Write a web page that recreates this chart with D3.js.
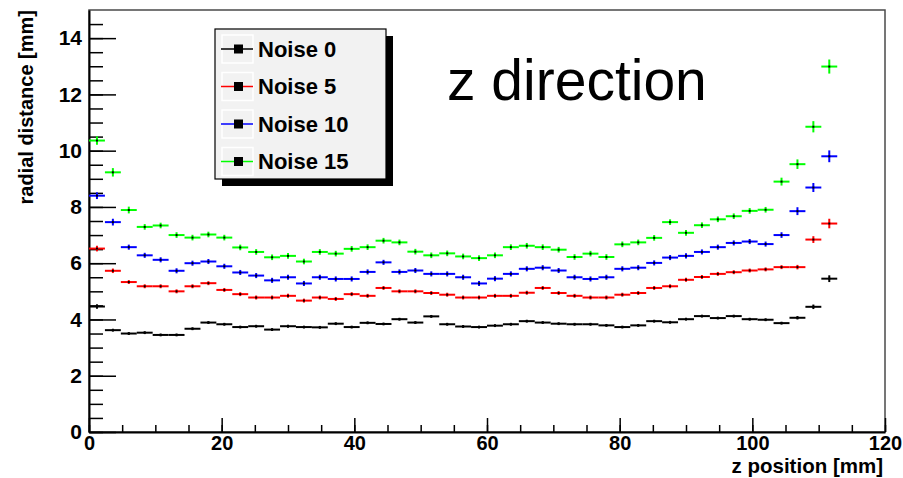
<!DOCTYPE html>
<html>
<head>
<meta charset="utf-8">
<script src="https://cdn.jsdelivr.net/npm/d3@7"></script>
<style>
    body { margin: 0; background: #ffffff; }
    svg text { font-family: "Liberation Sans", Arial, Helvetica, sans-serif; }
</style>
</head>
<body>
<div id="chart"></div>
<script>
"use strict";

// bin centres along z [mm], 2.4 mm wide bins
const zCenters = [1.2, 3.6, 6.0, 8.4, 10.8, 13.2, 15.6, 18.0, 20.4, 22.8, 25.2, 27.6, 30.0, 32.4, 34.8, 37.2,
    39.6, 42.0, 44.4, 46.8, 49.2, 51.6, 54.0, 56.4, 58.8, 61.2, 63.6, 66.0, 68.4, 70.8, 73.2, 75.6,
    78.0, 80.4, 82.8, 85.2, 87.6, 90.0, 92.4, 94.8, 97.2, 99.6, 102.0, 104.4, 106.8, 109.2, 111.6];
const binWidth = 2.4;

const noise0 = [4.46, 3.62, 3.50, 3.53, 3.45, 3.45, 3.67, 3.89, 3.83, 3.73, 3.76, 3.64, 3.76, 3.73, 3.72, 3.85,
    3.73, 3.88, 3.84, 4.01, 3.89, 4.11, 3.83, 3.75, 3.73, 3.78, 3.83, 3.94, 3.89, 3.85, 3.83, 3.83,
    3.79, 3.73, 3.79, 3.94, 3.90, 4.01, 4.12, 4.05, 4.12, 4.01, 3.99, 3.87, 4.06, 4.45, 5.45];
const noise5 = [6.52, 5.73, 5.33, 5.18, 5.18, 5.00, 5.18, 5.29, 5.05, 4.90, 4.78, 4.78, 4.84, 4.67, 4.78, 4.73,
    4.90, 4.84, 5.12, 5.00, 5.00, 4.94, 4.88, 4.78, 4.78, 4.84, 4.84, 4.95, 5.12, 4.94, 4.84, 4.78,
    4.78, 4.88, 4.94, 5.12, 5.18, 5.41, 5.51, 5.62, 5.68, 5.74, 5.78, 5.86, 5.86, 6.84, 7.41];
const noise10 = [8.40, 7.46, 6.57, 6.28, 6.12, 5.73, 6.00, 6.06, 5.89, 5.67, 5.56, 5.39, 5.50, 5.28, 5.50, 5.44,
    5.44, 5.69, 6.03, 5.69, 5.74, 5.62, 5.62, 5.50, 5.28, 5.45, 5.62, 5.80, 5.84, 5.74, 5.50, 5.44,
    5.50, 5.80, 5.84, 6.01, 6.20, 6.26, 6.40, 6.57, 6.72, 6.77, 6.68, 7.00, 7.85, 8.69, 9.80];
const noise15 = [10.36, 9.23, 7.89, 7.29, 7.34, 7.00, 6.91, 7.02, 6.91, 6.56, 6.40, 6.21, 6.26, 6.06, 6.40, 6.34,
    6.51, 6.57, 6.80, 6.74, 6.41, 6.28, 6.35, 6.24, 6.18, 6.28, 6.57, 6.62, 6.57, 6.48, 6.22, 6.34,
    6.22, 6.67, 6.74, 6.90, 7.46, 7.08, 7.35, 7.56, 7.67, 7.86, 7.90, 8.90, 9.52, 10.85, 12.99];

// vertical error bars (half height, mm)
const noise0Err = [0.08, 0.05, 0.05, 0.05, 0.05, 0.05, 0.05, 0.05, 0.05, 0.05, 0.05, 0.05, 0.05, 0.05, 0.05, 0.05,
    0.05, 0.05, 0.05, 0.05, 0.05, 0.05, 0.05, 0.05, 0.05, 0.05, 0.05, 0.05, 0.05, 0.05, 0.05, 0.05,
    0.05, 0.05, 0.05, 0.05, 0.05, 0.05, 0.05, 0.05, 0.05, 0.05, 0.05, 0.05, 0.06, 0.08, 0.12];
const noise5Err = [0.10, 0.08, 0.07, 0.07, 0.07, 0.07, 0.07, 0.07, 0.07, 0.07, 0.07, 0.07, 0.07, 0.07, 0.07, 0.07,
    0.07, 0.07, 0.07, 0.07, 0.07, 0.07, 0.07, 0.07, 0.07, 0.07, 0.07, 0.07, 0.07, 0.07, 0.07, 0.07,
    0.07, 0.07, 0.07, 0.07, 0.07, 0.07, 0.07, 0.07, 0.07, 0.07, 0.07, 0.07, 0.08, 0.12, 0.17];
const noise10Err = [0.12, 0.12, 0.09, 0.09, 0.09, 0.09, 0.09, 0.09, 0.09, 0.09, 0.09, 0.09, 0.09, 0.09, 0.09, 0.09,
    0.09, 0.09, 0.09, 0.09, 0.09, 0.09, 0.09, 0.09, 0.09, 0.09, 0.09, 0.09, 0.09, 0.09, 0.09, 0.09,
    0.09, 0.09, 0.09, 0.09, 0.09, 0.09, 0.09, 0.09, 0.09, 0.09, 0.09, 0.10, 0.14, 0.16, 0.21];
const noise15Err = [0.15, 0.15, 0.12, 0.10, 0.10, 0.10, 0.10, 0.10, 0.10, 0.10, 0.10, 0.10, 0.10, 0.10, 0.10, 0.10,
    0.10, 0.10, 0.10, 0.10, 0.10, 0.10, 0.10, 0.10, 0.10, 0.10, 0.10, 0.10, 0.10, 0.10, 0.10, 0.10,
    0.10, 0.10, 0.10, 0.10, 0.10, 0.10, 0.10, 0.10, 0.10, 0.10, 0.10, 0.14, 0.17, 0.20, 0.25];

const seriesNames = ["Noise 0", "Noise 5", "Noise 10", "Noise 15"];
const seriesColors = ["#000000", "#ff0000", "#0000ff", "#00ff00"];
const seriesValues = [noise0, noise5, noise10, noise15];
const seriesErrors = [noise0Err, noise5Err, noise10Err, noise15Err];

const xMajorTicks = [0, 20, 40, 60, 80, 100, 120];
const yMajorTicks = [0, 2, 4, 6, 8, 10, 12, 14];

const width = 903, height = 478;
const plot = {left: 89, right: 885, top: 10, bottom: 432};

const svg = d3.select("#chart")
    .append("svg")
    .attr("width", width)
    .attr("height", height);

svg.append("rect")
    .attr("width", width)
    .attr("height", height)
    .attr("fill", "#ffffff");

const x = d3.scaleLinear()
    .domain([0, 120])
    .range([plot.left, plot.right]);

const y = d3.scaleLinear()
    .domain([0, 15])
    .range([plot.bottom, plot.top]);

// frame
svg.append("rect")
    .attr("x", plot.left)
    .attr("y", plot.top)
    .attr("width", plot.right - plot.left)
    .attr("height", plot.bottom - plot.top)
    .attr("fill", "none")
    .attr("stroke", "#4a4a4a")
    .attr("stroke-width", 1.5);

// y axis: minor ticks, then major ticks with labels (ticks point inwards)
svg.append("g")
    .attr("transform", "translate(" + plot.left + ",0)")
    .call(d3.axisLeft(y).tickValues(d3.range(0, 15, 0.5)).tickSizeInner(-14).tickSizeOuter(0).tickFormat(""))
    .call(g => g.select(".domain").remove())
    .call(g => g.selectAll(".tick line").attr("stroke", "#000").attr("stroke-width", 1.5));

svg.append("g")
    .attr("transform", "translate(" + plot.left + ",0)")
    .call(d3.axisLeft(y).tickValues(yMajorTicks).tickSizeInner(-27).tickSizeOuter(0).tickPadding(7))
    .call(g => g.select(".domain").attr("stroke", "#000").attr("stroke-width", 2))
    .call(g => g.selectAll(".tick line").attr("stroke", "#000").attr("stroke-width", 1.5))
    .call(g => g.selectAll(".tick text")
        .attr("font-size", 21)
        .attr("font-weight", "bold")
        .attr("fill", "#000"));

// x axis
svg.append("g")
    .attr("transform", "translate(0," + plot.bottom + ")")
    .call(d3.axisBottom(x).tickValues(d3.range(0, 121, 5)).tickSizeInner(-7).tickSizeOuter(0).tickFormat(""))
    .call(g => g.select(".domain").remove())
    .call(g => g.selectAll(".tick line").attr("stroke", "#000").attr("stroke-width", 1.5));

svg.append("g")
    .attr("transform", "translate(0," + plot.bottom + ")")
    .call(d3.axisBottom(x).tickValues(xMajorTicks).tickSizeInner(-14).tickSizeOuter(0).tickPadding(4))
    .call(g => g.select(".domain").attr("stroke", "#000").attr("stroke-width", 2))
    .call(g => g.selectAll(".tick line").attr("stroke", "#000").attr("stroke-width", 1.5))
    .call(g => g.selectAll(".tick text")
        .attr("font-size", 20)
        .attr("font-weight", "bold")
        .attr("fill", "#000"));

// axis titles
svg.append("text")
    .attr("x", 883)
    .attr("y", 473)
    .attr("text-anchor", "end")
    .attr("font-size", 20.5)
    .attr("font-weight", "bold")
    .text("z position [mm]");

svg.append("text")
    .attr("transform", "translate(33,10) rotate(-90)")
    .attr("text-anchor", "end")
    .attr("font-size", 20)
    .attr("font-weight", "bold")
    .text("radial distance [mm]");

// data: horizontal bin bars + vertical error bars + dot
seriesValues.forEach(function(values, s) {
    const color = seriesColors[s];
    const errs = seriesErrors[s];
    const g = svg.append("g").attr("class", "series");
    const pts = zCenters.map(function(z, i) { return {z: z, v: values[i], e: errs[i]}; });

    g.selectAll(".hbar")
        .data(pts)
        .enter().append("line")
        .attr("x1", d => x(d.z - binWidth / 2))
        .attr("x2", d => x(d.z + binWidth / 2))
        .attr("y1", d => y(d.v))
        .attr("y2", d => y(d.v))
        .attr("stroke", color)
        .attr("stroke-width", 2);

    g.selectAll(".vbar")
        .data(pts)
        .enter().append("line")
        .attr("x1", d => x(d.z))
        .attr("x2", d => x(d.z))
        .attr("y1", d => y(d.v - d.e))
        .attr("y2", d => y(d.v + d.e))
        .attr("stroke", color)
        .attr("stroke-width", 2);

    g.selectAll(".dot")
        .data(pts)
        .enter().append("rect")
        .attr("x", d => x(d.z) - 1)
        .attr("y", d => y(d.v) - 1)
        .attr("width", 2)
        .attr("height", 2)
        .attr("fill", "#000");
});

// legend with drop shadow
const legend = svg.append("g").attr("class", "legend");
const lx = 215, ly = 29, lw = 171, lh = 150;

legend.append("rect")
    .attr("x", lx + 7).attr("y", ly + 7)
    .attr("width", lw).attr("height", lh)
    .attr("fill", "#000");

legend.append("rect")
    .attr("x", lx).attr("y", ly)
    .attr("width", lw).attr("height", lh)
    .attr("fill", "#f2f2f2")
    .attr("stroke", "#000")
    .attr("stroke-width", 1.2);

seriesNames.forEach(function(name, i) {
    const cy = 49 + i * 37.5;

    legend.append("rect")
        .attr("x", 222).attr("y", cy - 14)
        .attr("width", 31).attr("height", 28)
        .attr("fill", "none")
        .attr("stroke", "#ffffff")
        .attr("stroke-width", 1.5);

    legend.append("line")
        .attr("x1", 221).attr("x2", 253)
        .attr("y1", cy).attr("y2", cy)
        .attr("stroke", seriesColors[i])
        .attr("stroke-width", 1.5);

    legend.append("rect")
        .attr("x", 234).attr("y", cy - 4.5)
        .attr("width", 9).attr("height", 9)
        .attr("fill", "#000");

    legend.append("text")
        .attr("x", 258)
        .attr("y", cy + 7.5)
        .attr("font-size", 22)
        .attr("font-weight", "bold")
        .attr("fill", "#000")
        .text(name);
});

svg.append("text")
    .attr("x", 447)
    .attr("y", 100)
    .attr("font-size", 57)
    .attr("fill", "#000")
    .text("z direction");
</script>
</body>
</html>
